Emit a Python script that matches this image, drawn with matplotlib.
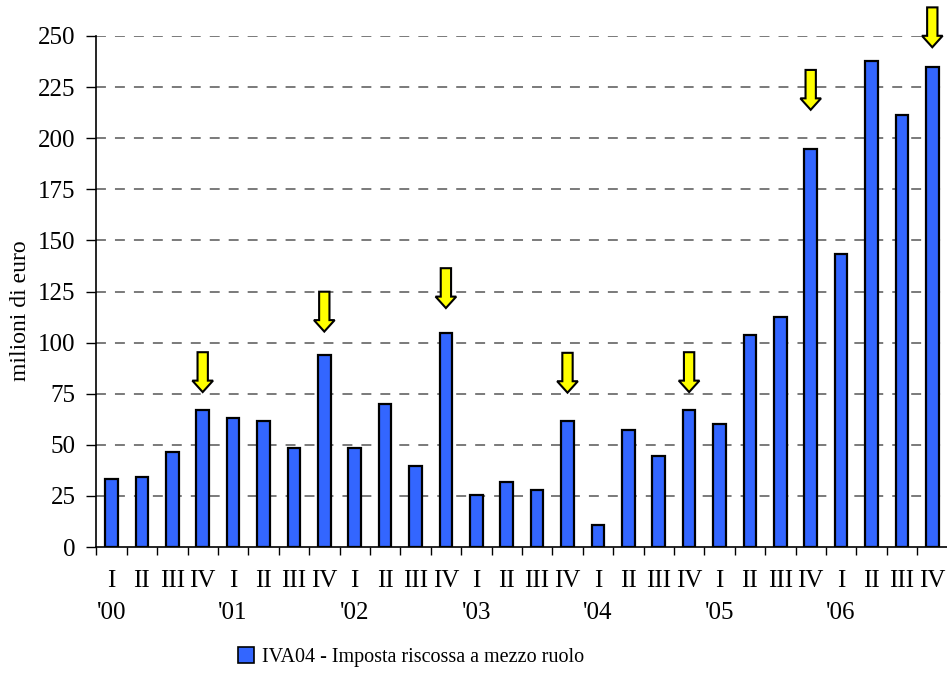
import matplotlib
matplotlib.use("Agg")
import matplotlib.pyplot as plt
import matplotlib.patches as mpatches
import numpy as np

plt.rcParams['font.family'] = ['Liberation Serif', 'DejaVu Serif']

# Quarterly revenue, millions of euro (2000 Q1 .. 2006 Q4)
years = ["'00", "'01", "'02", "'03", "'04", "'05", "'06"]
quarters = ["I", "II", "III", "IV"]
values = [33.5, 34.4, 46.5, 67.0,
          63.1, 61.4, 48.5, 93.8,
          48.5, 70.2, 39.5, 104.5,
          25.6, 31.7, 27.7, 61.4,
          10.9, 57.3, 44.4, 67.0,
          60.3, 103.7, 112.5, 194.6,
          143.2, 238.0, 211.4, 235.0]
# Highlighted quarters (index into values) and the level where each arrow tip sits
arrow_idx = [3, 7, 11, 15, 19, 23, 27]
arrow_tips = [75.8, 105.4, 116.9, 75.5, 75.8, 213.9, 244.5]
series_label = "IVA04 - Imposta riscossa a mezzo ruolo"
y_ticks = [0, 25, 50, 75, 100, 125, 150, 175, 200, 225, 250]

W, H = 947, 675
fig = plt.figure(figsize=(W / 100, H / 100), dpi=100)
ax = fig.add_axes([96.3 / W, 1 - 547 / H, (947.5 - 96.3) / W, (547 - 36) / H])

n = len(values)
x = np.arange(n)
bar_color = "#3366FF"
ax.bar(x, values, width=0.42, color=bar_color, edgecolor="black", linewidth=1.6, zorder=3)

ax.set_xlim(-0.5, n - 0.5)
ax.set_ylim(0, 250)
ax.set_yticks(y_ticks)
ax.set_yticklabels([str(v) for v in y_ticks], fontsize=18)
ax.tick_params(axis="y", direction="out", length=7, width=1, pad=8)

# grid
for v in y_ticks[1:]:
    ax.axhline(v, color="#707070", lw=1.3, ls=(0, (5.5, 5)), zorder=1)

# x axis: tick marks at quarter boundaries, labels at bar centres
ax.set_xticks(np.arange(n + 1) - 0.5)
ax.set_xticklabels([])
ax.tick_params(axis="x", which="major", direction="out", length=6, width=1)

xt = ax.get_xaxis_transform()
for i in range(n):
    ax.text(x[i], -0.066, quarters[i % 4], transform=xt,
            ha="center", va="center", fontsize=18)
for k, yr in enumerate(years):
    ax.text(4 * k, -0.13, yr, transform=xt,
            ha="center", va="center", fontsize=18)

for s in ("top", "right"):
    ax.spines[s].set_visible(False)
for s in ("left", "bottom"):
    ax.spines[s].set_linewidth(1.2)
    ax.spines[s].set_zorder(4)

fig.text(20 / W, 1 - 311 / H, "milioni di euro", rotation=90,
         ha="center", va="center", fontsize=17)

# yellow arrows over the highlighted quarters
arrow_len = 19.5
for i, tip in zip(arrow_idx, arrow_tips):
    arr = mpatches.FancyArrow(x[i], tip + arrow_len, 0, -arrow_len, width=0.34,
                              head_width=0.68, head_length=5.6,
                              length_includes_head=True, facecolor="#FFFF00",
                              edgecolor="black", linewidth=1.5, zorder=5,
                              clip_on=False)
    ax.add_patch(arr)

handle = mpatches.Patch(facecolor=bar_color, edgecolor="black", linewidth=1.2)
fig.legend([handle], [series_label], loc="center", bbox_to_anchor=(411 / W, 1 - 657 / H),
           frameon=False, fontsize=14.5, handlelength=0.8, handleheight=0.8,
           handletextpad=0.4)

fig.savefig("out.png", dpi=100)
